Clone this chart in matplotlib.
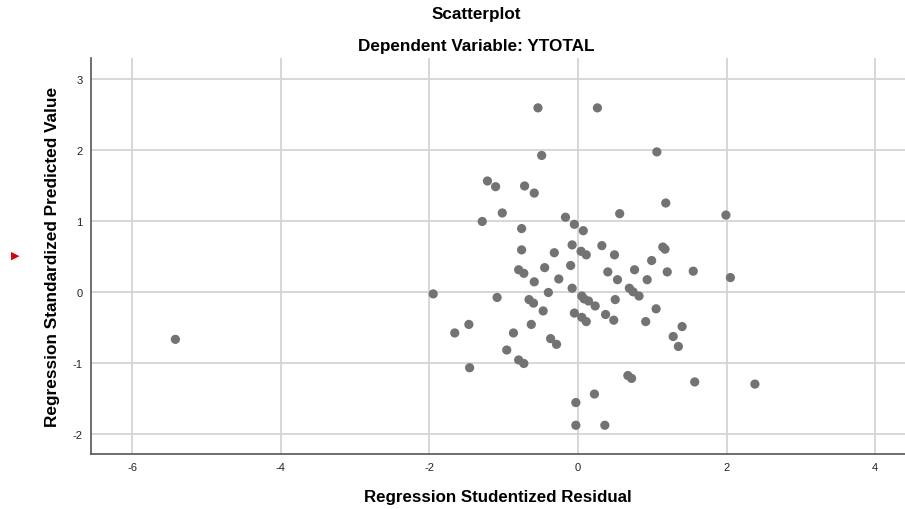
import matplotlib.pyplot as plt

plt.rcParams['font.family'] = ['Liberation Sans', 'DejaVu Sans']
plt.rcParams['axes.unicode_minus'] = False

# Regression Studentized Residual (x) / Regression Standardized Predicted Value (y)
resid = [-0.54, 0.26, 1.06, -0.49, -1.22, -1.11, -0.72, -0.59, 1.18, -1.02,
         0.56, -0.17, -1.29, -0.05, 0.07, -0.76, -0.76, -0.08, -0.32, 0.04,
         0.11, 0.32, 0.49, 1.14, 1.17, 0.99, -0.80, -0.73, -0.45, -0.10,
         -0.59, -0.26, 0.40, 0.53, 0.76, 0.93, 1.20, 1.55, -1.95, -1.09,
         -0.40, -0.08, 0.05, 0.08, 0.14, 0.23, -0.66, -0.60, -0.47, 0.69,
         0.74, 0.82, 0.50, -0.05, 0.05, 0.11, 0.37, 0.48, 1.05, 0.91,
         -1.47, -1.66, -0.63, -0.87, -0.37, -0.29, 1.40, 1.28, 1.35, -0.96,
         -0.80, -0.73, -1.46, 0.67, 0.72, 1.57, 0.22, -0.03, -0.03, 0.36,
         1.99, 2.05, 2.38, -5.42]
pred = [2.59, 2.59, 1.97, 1.92, 1.56, 1.48, 1.49, 1.39, 1.25, 1.11,
        1.10, 1.05, 0.99, 0.95, 0.86, 0.89, 0.59, 0.66, 0.55, 0.57,
        0.52, 0.65, 0.52, 0.63, 0.60, 0.44, 0.31, 0.26, 0.34, 0.37,
        0.14, 0.18, 0.28, 0.17, 0.31, 0.17, 0.28, 0.29, -0.03, -0.08,
        -0.01, 0.05, -0.06, -0.10, -0.13, -0.20, -0.11, -0.16, -0.27, 0.05,
        0.00, -0.06, -0.11, -0.30, -0.36, -0.42, -0.32, -0.40, -0.24, -0.42,
        -0.46, -0.58, -0.46, -0.58, -0.66, -0.74, -0.49, -0.63, -0.77, -0.82,
        -0.96, -1.01, -1.07, -1.18, -1.22, -1.27, -1.44, -1.56, -1.88, -1.88,
        1.08, 0.20, -1.30, -0.67]

xticks = [-6, -4, -2, 0, 2, 4]
yticks = [-2, -1, 0, 1, 2, 3]

fig = plt.figure(figsize=(9.05, 5.10), dpi=100)
ax = fig.add_axes([0.1002, 0.1078, 0.8998, 0.7762])

ax.scatter(resid, pred, s=44, color='#737373', edgecolors='none', zorder=3)

ax.set_xlim(-6.56, 4.4)
ax.set_ylim(-2.285, 3.29)
ax.set_xticks(xticks)
ax.set_yticks(yticks)
ax.tick_params(length=0, labelsize=8, colors='#222222', pad=6)
ax.grid(True, color='#d4d4d4', linewidth=1.3)
ax.set_axisbelow(True)
for s in ['top', 'right']:
    ax.spines[s].set_visible(False)
for s in ['left', 'bottom']:
    ax.spines[s].set_color('#555555')
    ax.spines[s].set_linewidth(1.2)

ax.set_xlabel('Regression Studentized Residual', fontsize=12.2, fontweight='bold', labelpad=12)
ax.set_ylabel('Regression Standardized Predicted Value', fontsize=12.4, fontweight='bold', labelpad=9)

fig.text(0.526, 0.9725, 'Scatterplot', ha='center', va='center', fontsize=12.3, fontweight='bold')
fig.text(0.526, 0.908, 'Dependent Variable: YTOTAL', ha='center', va='center', fontsize=12.3,
         fontweight='bold')

# small red marker at the left edge
fig.text(0.017, 0.498, '\u25b6', color='#e00000', ha='center', va='center', fontsize=8,
         family='DejaVu Sans')

plt.savefig('out.png', dpi=100)
